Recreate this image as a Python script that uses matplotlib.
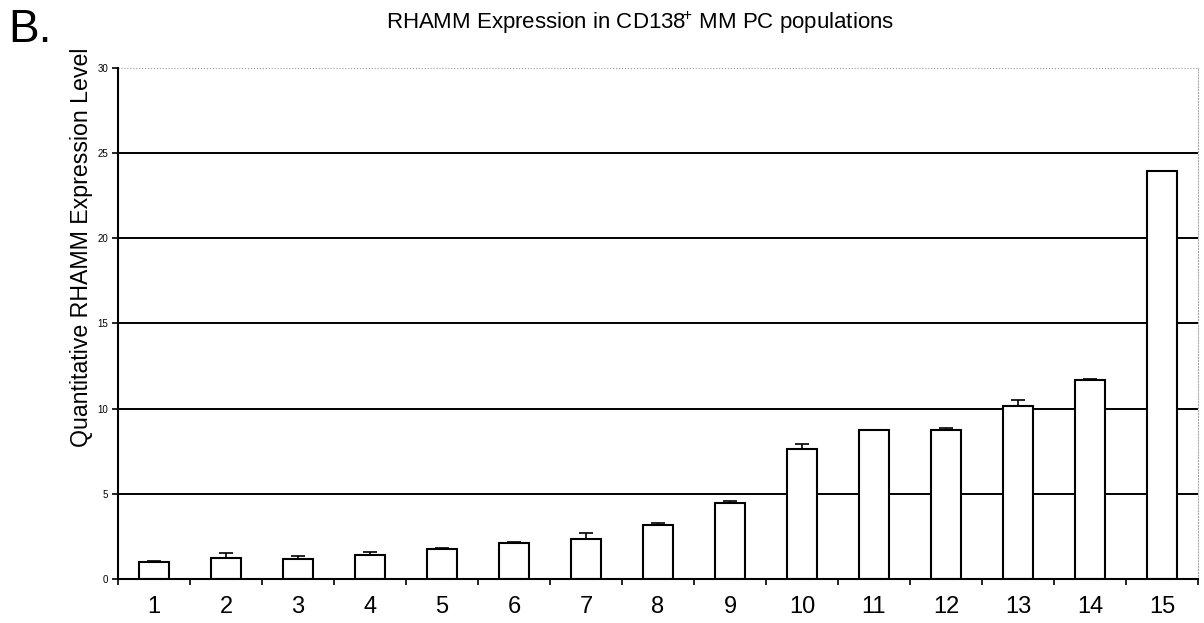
import numpy as np
import matplotlib
matplotlib.use("Agg")
import matplotlib.pyplot as plt

plt.rcParams['font.family'] = ['Liberation Sans', 'DejaVu Sans']

samples = [str(i) for i in range(1, 16)]
expression = [1.0, 1.23, 1.2, 1.43, 1.76, 2.1, 2.35, 3.16, 4.49, 7.63, 8.72, 8.72, 10.17, 11.67, 23.92]
err_up = [0.05, 0.3, 0.15, 0.17, 0.08, 0.05, 0.33, 0.15, 0.08, 0.3, 0.05, 0.15, 0.35, 0.05, 0.05]
y_ticks = [0, 5, 10, 15, 20, 25, 30]

fig = plt.figure(figsize=(12.04, 6.23), dpi=100)
ax = fig.add_axes([0.098, 0.0706, 0.897, 0.8204])

x = np.arange(len(samples))
# grid lines behind the bars
for t in y_ticks[1:-1]:
    ax.axhline(t, color='black', lw=1.4, zorder=1)
ax.axhline(30, color='#999999', lw=0.8, ls=':', zorder=1)

ax.bar(x, expression, width=0.41, color='white', edgecolor='black', linewidth=1.5, zorder=2)
ax.errorbar(x, expression, yerr=[np.zeros(len(x)), err_up], fmt='none',
            ecolor='black', elinewidth=1.2, capsize=5, capthick=1.2, zorder=3)

ax.set_xlim(-0.5, len(samples) - 0.5)
ax.set_ylim(0, 30)
ax.set_yticks(y_ticks)
ax.set_yticklabels([str(t) for t in y_ticks], fontsize=7)
ax.set_xticks(x)
ax.set_xticklabels(samples, fontsize=17)
ax.tick_params(axis='x', length=0, pad=12)
ax.set_xticks(np.arange(-0.5, len(samples), 1), minor=True)
ax.tick_params(axis='x', which='minor', length=4, width=1.2, direction='out')
ax.tick_params(axis='y', length=4, width=1.2, direction='out', pad=3)

ax.spines['top'].set_visible(False)
ax.spines['right'].set_color('#aaaaaa')
ax.spines['right'].set_linestyle(':')
ax.spines['right'].set_linewidth(0.8)
ax.spines['left'].set_linewidth(1.5)
ax.spines['bottom'].set_linewidth(1.5)

fig.text(640 / 1204, 1 - 23 / 623, r"RHAMM Expression in CD138$^{\!\mathregular{+}}$ MM PC populations",
         ha='center', va='center', fontsize=16)
fig.text(8 / 1204, 1 - 30 / 623, "B.", ha='left', va='center', fontsize=33)
fig.text(82 / 1204, 1 - 247 / 623, "Quantitative RHAMM Expression Level",
         rotation=90, ha='center', va='center', fontsize=16.7)

fig.savefig("out.png", dpi=100)
